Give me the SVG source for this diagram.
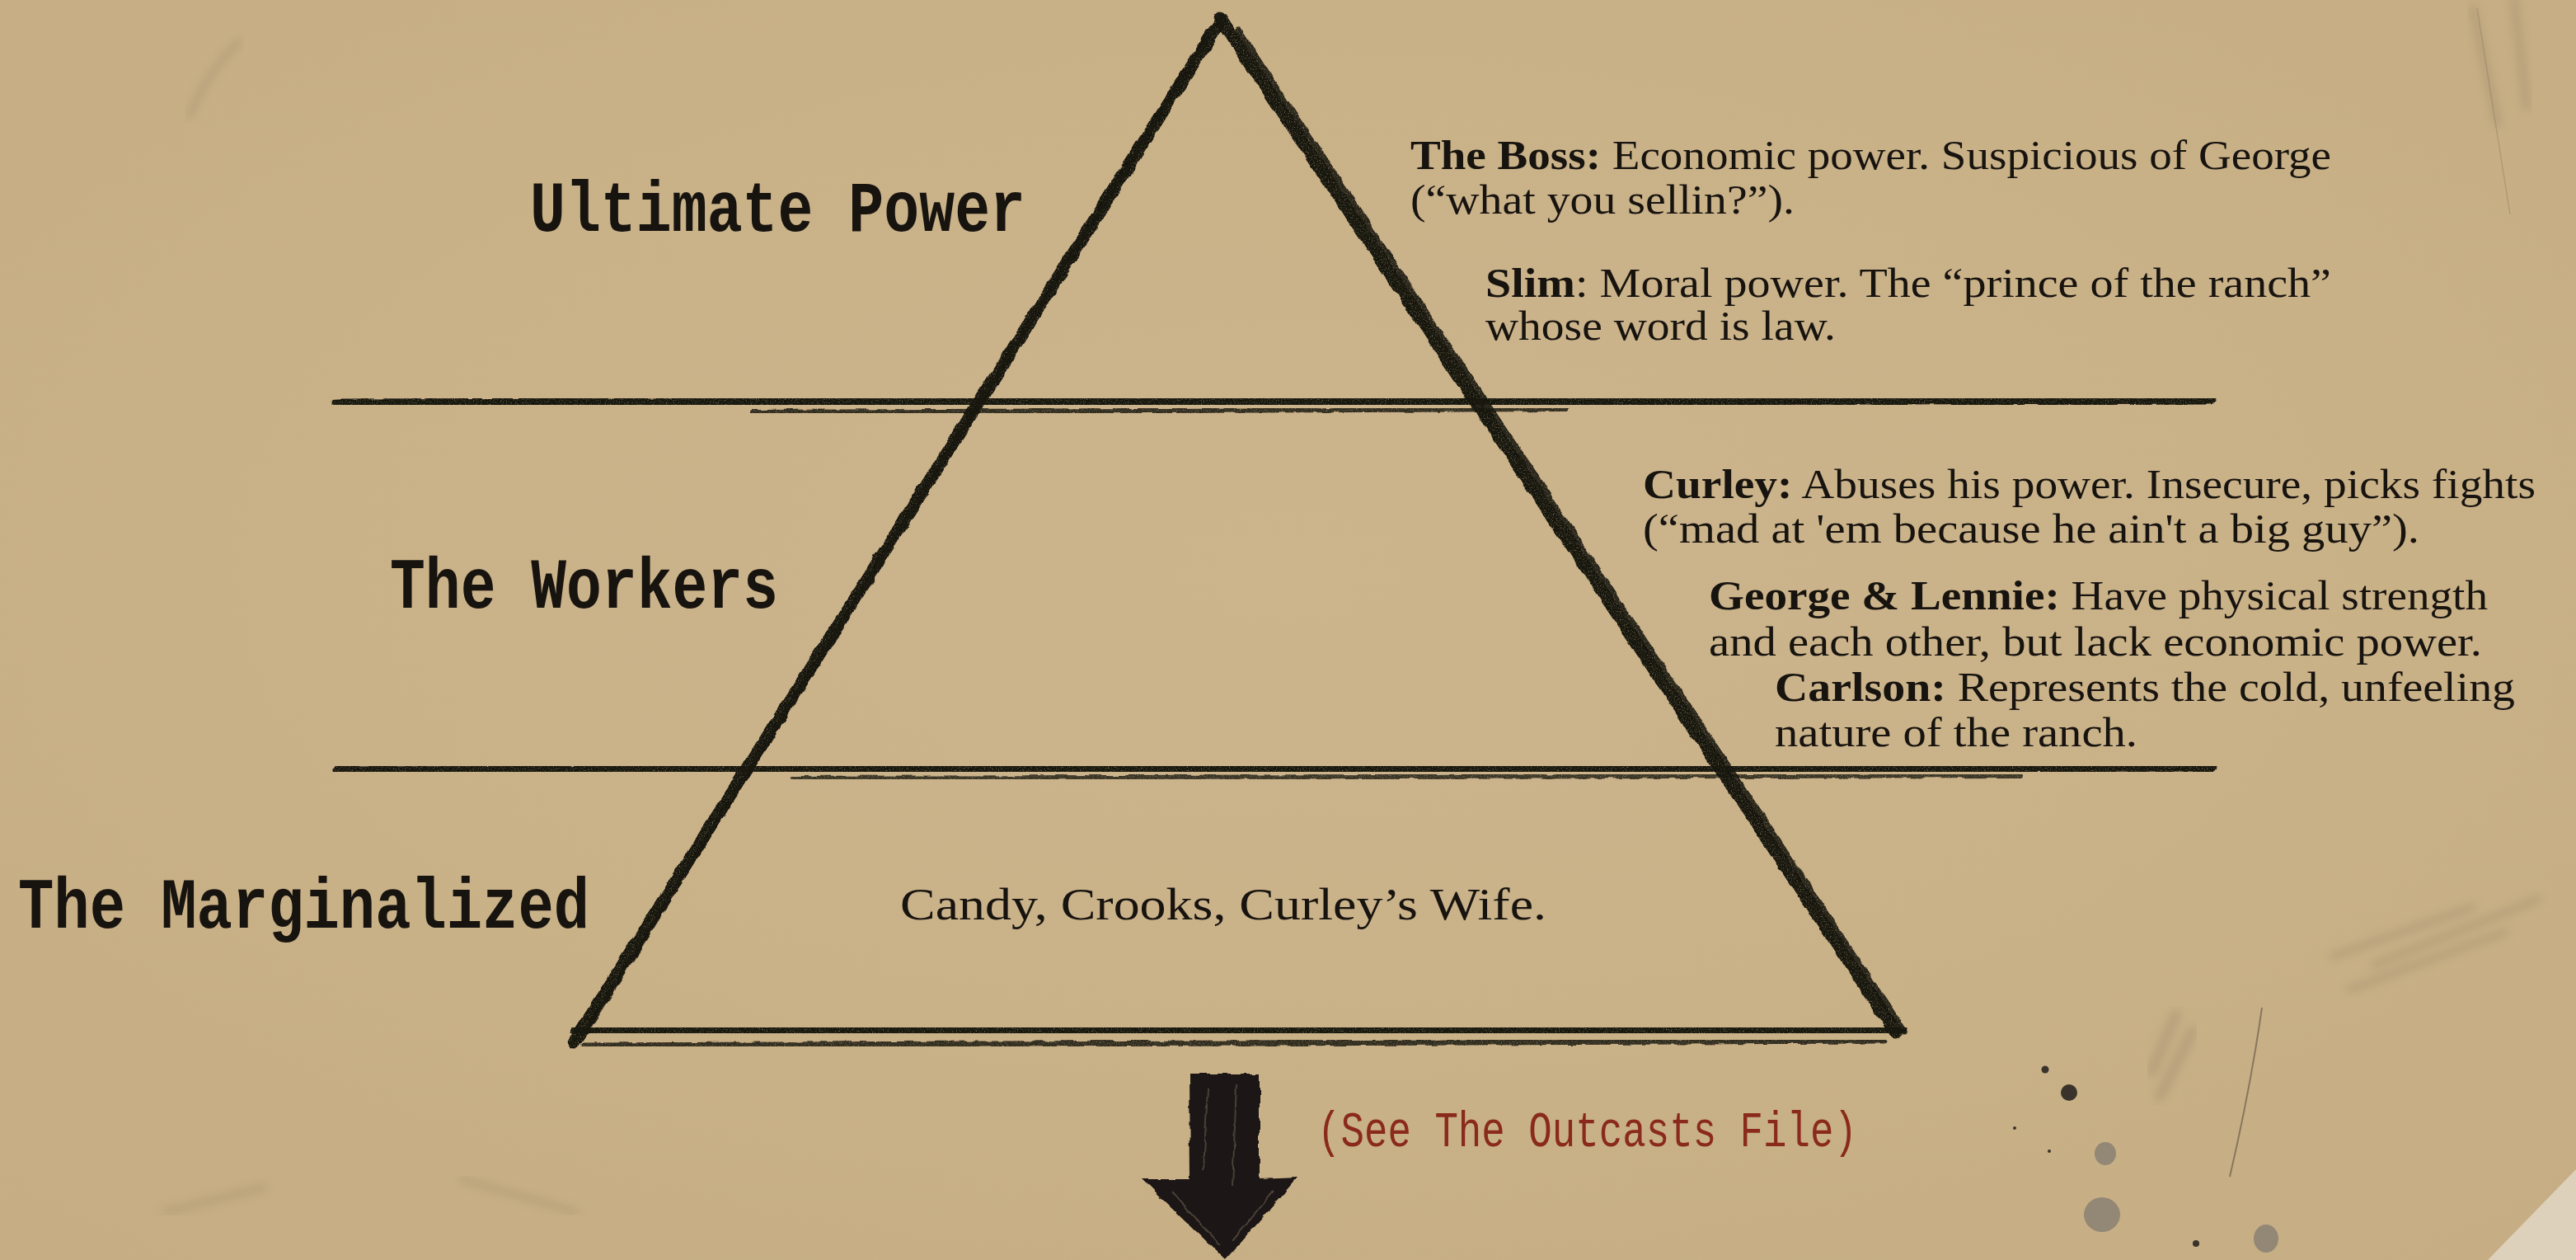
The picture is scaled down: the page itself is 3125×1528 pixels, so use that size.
<svg xmlns="http://www.w3.org/2000/svg" width="3125" height="1528" viewBox="0 0 3125 1528">
<defs>
<filter id="rough" x="-5%" y="-5%" width="110%" height="110%">
<feTurbulence type="fractalNoise" baseFrequency="0.06" numOctaves="2" seed="3" result="n"/>
<feDisplacementMap in="SourceGraphic" in2="n" scale="6" xChannelSelector="R" yChannelSelector="G" result="d"/>
<feTurbulence type="fractalNoise" baseFrequency="0.7" numOctaves="2" seed="8" result="grain"/>
<feColorMatrix in="grain" type="matrix" values="0 0 0 0 0  0 0 0 0 0  0 0 0 0 0  0 0 0 -1.6 1.85" result="ga"/>
<feComposite in="d" in2="ga" operator="in"/>
</filter>
<filter id="wobble" x="-5%" y="-5%" width="110%" height="110%">
<feTurbulence type="fractalNoise" baseFrequency="0.06" numOctaves="2" seed="5" result="n"/>
<feDisplacementMap in="SourceGraphic" in2="n" scale="6" xChannelSelector="R" yChannelSelector="G"/>
</filter>
<filter id="blur6"><feGaussianBlur stdDeviation="6"/></filter>
<radialGradient id="bg" cx="50%" cy="45%" r="75%">
<stop offset="0" stop-color="#ccb58d"/>
<stop offset="1" stop-color="#c6ad83"/>
</radialGradient>
</defs>
<style>
.mono{font-family:"Liberation Mono","Courier New",monospace;font-weight:bold;fill:#17130f}
.ser{font-family:"Liberation Serif","Times New Roman",serif;fill:#17130f;font-size:50px}
.b{font-weight:bold}
.ink{stroke:#15120f;fill:none;stroke-linecap:round;filter:url(#rough)}
.smudge{stroke:#8c7a60;fill:none;stroke-linecap:round;filter:url(#blur6);opacity:.3}
</style>
<rect width="3125" height="1528" fill="url(#bg)"/>
<g id="texture">
<path class="smudge" d="M230 140 Q250 90 290 50" stroke-width="8"/>
<path class="smudge" d="M3000 10 L3030 150 M3050 0 L3065 130" stroke-width="10"/>
<path d="M3005 10 L3045 260" stroke="#7a6a55" stroke-width="1.5" opacity=".3" fill="none"/>
<path class="smudge" d="M2830 1160 L3000 1100 M2850 1200 L3040 1130 M2880 1170 L3080 1090" stroke-width="9"/>
<path class="smudge" d="M2610 1300 L2640 1230 M2620 1330 L2660 1250" stroke-width="12"/>
<path class="smudge" d="M200 1470 L320 1440 M560 1430 L700 1470" stroke-width="8"/>
<path d="M2744 1222 Q2730 1320 2705 1427" stroke="#5e5044" stroke-width="2" fill="none" opacity=".6"/>
<g fill="#3a332b">
<circle cx="2481" cy="1297" r="4.5"/>
<circle cx="2510" cy="1325" r="10"/>
<circle cx="2444" cy="1368" r="2"/>
<circle cx="2486" cy="1396" r="2"/>
<circle cx="2664" cy="1508" r="4"/>
</g>
<g fill="#8a8173" opacity=".85">
<ellipse cx="2554" cy="1399" rx="13" ry="14"/>
<ellipse cx="2550" cy="1473" rx="22" ry="21"/>
<ellipse cx="2749" cy="1502" rx="15" ry="17"/>
</g>
<polygon points="3125,1418 3125,1528 3018,1528" fill="#ddd1bb"/>
</g>

<g id="pyramid">
<!-- left side -->
<path class="ink" d="M1480 26 L696 1264" stroke-width="15"/>
<path class="ink" d="M1466 44 L712 1250" stroke-width="6" opacity=".85"/>
<!-- right side -->
<path class="ink" d="M1480 22 L2300 1252" stroke-width="15"/>
<path class="ink" d="M1502 36 L2310 1250" stroke-width="7" opacity=".9"/>
<!-- base -->
<path class="ink" d="M700 1252 L2306 1247" stroke-width="15"/>
<path class="ink" d="M708 1268 L2286 1262" stroke-width="7" opacity=".85"/>
<!-- tier lines -->
<path class="ink" d="M408 490 Q1500 486 2680 484" stroke-width="13"/>
<path class="ink" d="M913 500 L1900 496" stroke-width="6" opacity=".85"/>
<path class="ink" d="M410 935 Q1500 930 2682 930" stroke-width="13"/>
<path class="ink" d="M960 944 L2450 940" stroke-width="6" opacity=".8"/>
</g>

<g id="tier-ultimate">
<text class="mono" x="643" y="280" font-size="88" textLength="601" lengthAdjust="spacingAndGlyphs">Ultimate Power</text>
</g>
<g id="tier-workers">
<text class="mono" x="473" y="737" font-size="88" textLength="471" lengthAdjust="spacingAndGlyphs">The Workers</text>
</g>
<g id="tier-marginalized">
<text class="mono" x="22" y="1125" font-size="88" textLength="693" lengthAdjust="spacingAndGlyphs">The Marginalized</text>
<text class="ser" x="1092" y="1115" textLength="784" lengthAdjust="spacingAndGlyphs" style="font-size:55px">Candy, Crooks, Curley’s Wife.</text>
</g>

<g id="note-boss">
<text class="ser" x="1711" y="205" textLength="1117" lengthAdjust="spacingAndGlyphs"><tspan class="b">The Boss:</tspan> Economic power. Suspicious of George</text>
<text class="ser" x="1711" y="259" textLength="466" lengthAdjust="spacingAndGlyphs">(“what you sellin?”).</text>
</g>
<g id="note-slim">
<text class="ser" x="1802" y="360" textLength="1026" lengthAdjust="spacingAndGlyphs"><tspan class="b">Slim</tspan>: Moral power. The “prince of the ranch”</text>
<text class="ser" x="1802" y="412" textLength="425" lengthAdjust="spacingAndGlyphs">whose word is law.</text>
</g>
<g id="note-curley">
<text class="ser" x="1993" y="604" textLength="1083" lengthAdjust="spacingAndGlyphs"><tspan class="b">Curley:</tspan> Abuses his power. Insecure, picks fights</text>
<text class="ser" x="1993" y="658" textLength="942" lengthAdjust="spacingAndGlyphs">(“mad at 'em because he ain't a big guy”).</text>
</g>
<g id="note-george">
<text class="ser" x="2073" y="739" textLength="945" lengthAdjust="spacingAndGlyphs"><tspan class="b">George &amp; Lennie:</tspan> Have physical strength</text>
<text class="ser" x="2073" y="795" textLength="938" lengthAdjust="spacingAndGlyphs">and each other, but lack economic power.</text>
</g>
<g id="note-carlson">
<text class="ser" x="2153" y="850" textLength="898" lengthAdjust="spacingAndGlyphs"><tspan class="b">Carlson:</tspan> Represents the cold, unfeeling</text>
<text class="ser" x="2153" y="905" textLength="440" lengthAdjust="spacingAndGlyphs">nature of the ranch.</text>
</g>

<g id="connectors">
<g filter="url(#wobble)">
<polygon points="1443,1302 1528,1302 1528,1430 1574,1428 1487,1528 1386,1430 1444,1430" fill="#1a1613"/>
<path d="M1465 1320 L1460 1420 M1500 1315 L1495 1440 M1420 1445 L1480 1510 M1545 1445 L1495 1505" stroke="#6a5e50" stroke-width="2" opacity=".6" fill="none"/>
</g>
<text x="1598" y="1390" font-family="Liberation Mono, Courier New, monospace" font-size="62" fill="#8a2a1c" textLength="655" lengthAdjust="spacingAndGlyphs">(See The Outcasts File)</text>
</g>
</svg>
